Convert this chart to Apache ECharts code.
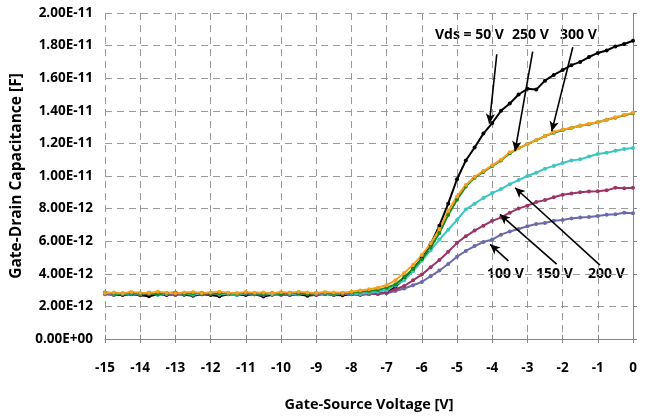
<!DOCTYPE html>
<html>
<head>
<meta charset="utf-8">
<script src="https://cdn.jsdelivr.net/npm/echarts@6/dist/echarts.min.js"></script>
<style>
  html, body { margin: 0; padding: 0; background: #fff; }
  #chart { width: 649px; height: 417px; }
</style>
</head>
<body>
<div id="chart"></div>
<script>
// Gate-source voltage sweep [V]
const vgs = [-15,-14.75,-14.5,-14.25,-14,-13.75,-13.5,-13.25,-13,-12.75,-12.5,-12.25,
  -12,-11.75,-11.5,-11.25,-11,-10.75,-10.5,-10.25,-10,-9.75,-9.5,-9.25,-9,-8.75,-8.5,
  -8.25,-8,-7.75,-7.5,-7.25,-7,-6.75,-6.5,-6.25,-6,-5.75,-5.5,-5.25,-5,-4.75,-4.5,
  -4.25,-4,-3.75,-3.5,-3.25,-3,-2.75,-2.5,-2.25,-2,-1.75,-1.5,-1.25,-1,-0.75,-0.5,-0.25,0];

// Gate-drain capacitance per drain-source bias, in pF
const cgd50 = [2.78,2.72,2.70,2.75,2.68,2.62,2.74,2.70,2.76,2.72,2.66,2.74,2.70,2.62,2.75,2.72,
  2.70,2.74,2.60,2.72,2.76,2.70,2.74,2.66,2.72,2.76,2.70,2.68,2.74,2.72,2.76,2.78,
  2.85,3.2,3.7,4.3,4.95,5.8,6.95,8.3,9.8,10.95,11.75,12.6,13.25,14.0,14.45,15.0,15.35,
  15.3,15.85,16.2,16.5,16.8,17.0,17.3,17.55,17.7,17.95,18.1,18.3];
const cgd100 = [2.74,2.70,2.80,2.76,2.72,2.78,2.80,2.74,2.70,2.82,2.76,2.74,2.80,2.72,2.78,2.76,
  2.82,2.74,2.70,2.78,2.74,2.72,2.80,2.76,2.74,2.78,2.72,2.76,2.80,2.74,2.76,2.78,
  2.8,2.95,3.1,3.3,3.5,3.85,4.2,4.6,5.05,5.4,5.7,5.95,6.1,6.4,6.6,6.75,6.92,7.05,
  7.12,7.25,7.3,7.4,7.45,7.48,7.55,7.62,7.65,7.75,7.72];
const cgd150 = [2.80,2.76,2.74,2.82,2.78,2.74,2.80,2.76,2.72,2.78,2.82,2.76,2.74,2.80,2.78,2.72,
  2.76,2.80,2.74,2.78,2.70,2.76,2.80,2.74,2.70,2.78,2.76,2.74,2.78,2.76,2.80,2.78,
  2.85,3.05,3.25,3.6,3.95,4.4,4.85,5.35,5.9,6.3,6.65,6.95,7.25,7.45,7.75,8.0,8.18,8.4,
  8.52,8.7,8.85,8.92,9.0,9.05,9.06,9.12,9.28,9.25,9.28];
const cgd200 = [2.84,2.78,2.74,2.80,2.76,2.86,2.70,2.78,2.82,2.76,2.72,2.80,2.84,2.76,2.78,2.70,
  2.82,2.76,2.80,2.74,2.82,2.78,2.76,2.84,2.78,2.80,2.74,2.82,2.78,2.76,2.84,2.90,
  3.0,3.3,3.6,4.15,4.8,5.45,6.1,6.7,7.3,7.95,8.3,8.65,8.95,9.2,9.5,9.75,10.0,10.2,
  10.45,10.62,10.8,10.95,11.02,11.2,11.35,11.42,11.55,11.65,11.72];
const cgd250 = [2.86,2.80,2.76,2.84,2.78,2.80,2.74,2.82,2.86,2.78,2.80,2.84,2.76,2.80,2.82,2.78,
  2.84,2.76,2.80,2.82,2.78,2.84,2.80,2.76,2.82,2.84,2.78,2.82,2.86,2.90,2.94,3.0,
  3.15,3.35,3.8,4.3,4.9,5.6,6.5,7.6,8.55,9.35,9.9,10.25,10.6,10.95,11.4,11.7,11.95,
  12.2,12.45,12.65,12.82,12.95,13.08,13.18,13.3,13.45,13.58,13.72,13.85];
const cgd300 = [2.82,2.86,2.80,2.88,2.84,2.82,2.90,2.84,2.80,2.86,2.88,2.82,2.86,2.90,2.84,2.82,
  2.88,2.84,2.86,2.80,2.88,2.84,2.90,2.86,2.82,2.88,2.86,2.84,2.90,2.98,3.05,3.15,
  3.3,3.6,4.05,4.55,5.15,5.85,6.75,7.85,8.75,9.45,9.95,10.3,10.65,11.0,11.45,11.7,
  11.95,12.2,12.45,12.7,12.85,12.95,13.1,13.2,13.3,13.45,13.6,13.75,13.88];

// Callout arrows: [start Vgs, start pF, tip Vgs, tip pF]
const arrows = [
  [-3.87, 17.47, -4.08, 13.21],
  [-2.85, 17.63, -3.35, 11.52],
  [-1.71, 17.90, -2.31, 12.74],
  [-3.54, 4.79, -4.06, 5.81],
  [-2.17, 4.59, -3.78, 7.65],
  [-0.94, 4.53, -3.35, 9.28]
];
// Callout captions: [text, left px, center y px]
const captions = [
  ['Vds = 50 V', 435, 38], ['250 V', 512, 38], ['300 V', 560, 38],
  ['100 V', 487, 277], ['150 V', 536, 277], ['200 V', 588, 277]
];

const FONT = '"Open Sans"';
const gridGray = '#9a9a9a';

function sciLabel(pf) {
  if (pf === 0) return '0.00E+00';
  const s = (pf * 1e-12).toExponential(2);
  const [m, e] = s.split('e');
  const sign = e[0] === '-' ? '-' : '+';
  const digits = e.replace(/[+-]/, '').padStart(2, '0');
  return m + 'E' + sign + digits;
}

function pairs(ys) { return vgs.map((x, i) => [x, ys[i]]); }

function curve(name, ys, color, extra) {
  return Object.assign({
    name: name,
    type: 'line',
    data: pairs(ys),
    symbol: 'circle',
    symbolSize: 4,
    showSymbol: true,
    lineStyle: { color: color, width: 2 },
    itemStyle: { color: color },
    emphasis: { disabled: true }
  }, extra || {});
}

const chart = echarts.init(document.getElementById('chart'));
chart.setOption({
  animation: false,
  backgroundColor: '#fff',
  textStyle: { fontFamily: FONT },
  grid: { left: 105, right: 16, top: 13, bottom: 77, containLabel: false },
  xAxis: [{
    type: 'value', min: -15, max: 0, interval: 1,
    name: 'Gate-Source Voltage [V]', nameLocation: 'middle', nameGap: 58,
    nameTextStyle: { fontFamily: FONT, fontWeight: 'bold', fontSize: 14.5, color: '#000' },
    axisLine: { show: true, lineStyle: { color: '#868686', width: 1 } },
    axisTick: { show: true, length: 4, lineStyle: { color: '#868686' } },
    axisLabel: { margin: 22, fontFamily: FONT, fontWeight: 'bold', fontSize: 13.5, color: '#000' },
    splitLine: { show: true, lineStyle: { color: gridGray, type: [7, 5], width: 1 } }
  }, {
    type: 'value', min: -15, max: 0, interval: 1, position: 'bottom',
    axisLine: { show: false },
    axisTick: { show: true, inside: true, length: 4, lineStyle: { color: '#868686' } },
    axisLabel: { show: false },
    splitLine: { show: false }
  }],
  yAxis: [{
    type: 'value', min: 0, max: 20, interval: 2,
    name: 'Gate-Drain Capacitance [F]', nameLocation: 'middle', nameGap: 77,
    nameTextStyle: { fontFamily: FONT, fontWeight: 'bold', fontSize: 15.5, color: '#000' },
    axisLine: { show: false },
    axisTick: { show: true, inside: true, length: 4, lineStyle: { color: '#868686' } },
    axisLabel: { margin: 12, formatter: sciLabel, fontFamily: FONT, fontWeight: 'bold', fontSize: 13.5, color: '#000' },
    splitLine: { show: true, lineStyle: { color: gridGray, type: [7, 5], width: 1 } }
  }, {
    type: 'value', min: 0, max: 20, interval: 2, position: 'right',
    axisLine: { show: true, lineStyle: { color: '#868686', width: 1 } },
    axisTick: { show: false }, axisLabel: { show: false }, splitLine: { show: false }
  }],
  series: [
    curve('50 V', cgd50, '#000000', {
      markLine: {
        silent: true,
        symbol: ['none', 'arrow'],
        symbolSize: [7, 10],
        label: { show: false },
        lineStyle: { color: '#000', width: 1.6, type: 'solid' },
        emphasis: { disabled: true },
        data: arrows.map(a => [{ coord: [a[0], a[1]] }, { coord: [a[2], a[3]] }])
      }
    }),
    curve('100 V', cgd100, '#6b6aa8'),
    curve('150 V', cgd150, '#9c3468'),
    curve('200 V', cgd200, '#3cc6c2'),
    curve('250 V', cgd250, '#188a18'),
    curve('300 V', cgd300, '#f7a020')
  ],
  graphic: captions.map(c => ({
    type: 'text', left: c[1], top: c[2] - 10, silent: true,
    style: { text: c[0], fill: '#000', font: 'bold 14px ' + FONT }
  }))
});
</script>
</body>
</html>
